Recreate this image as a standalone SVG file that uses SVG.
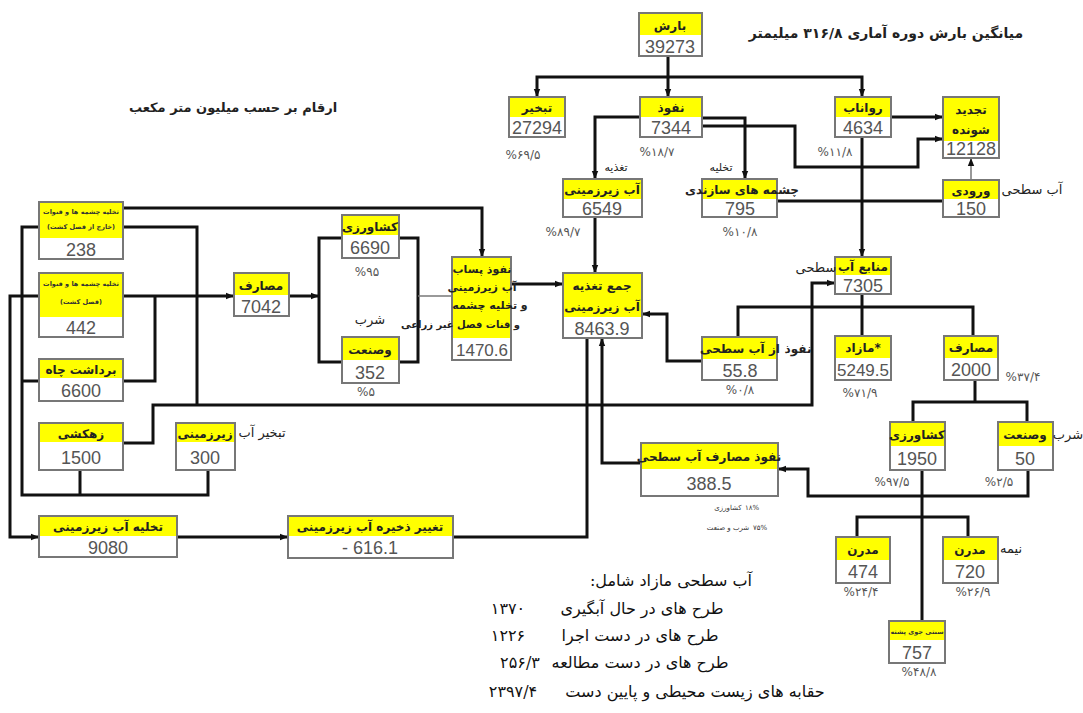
<svg xmlns="http://www.w3.org/2000/svg" width="1083" height="713" viewBox="0 0 1083 713">
<style>
.b{fill:#fff;stroke:#777;stroke-width:2}
.y{fill:#ffff00}
.lab{font-family:"DejaVu Sans",sans-serif;font-weight:bold;font-size:12px;fill:#222;text-anchor:middle}
.tiny{font-family:"DejaVu Sans",sans-serif;font-weight:bold;font-size:6.5px;fill:#333;text-anchor:middle}
.num{font-family:"Liberation Sans",Arial,sans-serif;font-size:18px;fill:#555;text-anchor:middle}
.pct{font-family:"DejaVu Sans",sans-serif;font-size:12px;fill:#555;text-anchor:middle}
.reg{font-family:"DejaVu Sans",sans-serif;font-size:13px;fill:#222;text-anchor:middle}
.ttl{font-family:"DejaVu Sans",sans-serif;font-weight:bold;font-size:14px;fill:#222;text-anchor:middle}
.lst{font-family:"DejaVu Serif","DejaVu Sans",serif;font-size:16px;fill:#111;text-anchor:middle}
.ln{fill:none;stroke:#111;stroke-width:3}
.th{fill:none;stroke:#777;stroke-width:1.5}
</style>
<defs>
<marker id="ar" viewBox="0 0 10 10" refX="10" refY="5" markerWidth="8" markerHeight="8" markerUnits="userSpaceOnUse" orient="auto"><path d="M0,1 L10,5 L0,9 z" fill="#111"/></marker>
</defs>

<g id="connectors">
<path class="ln" d="M668,56 V97" marker-end="url(#ar)"/>
<path class="ln" d="M668,77 H537 V97" marker-end="url(#ar)"/>
<path class="ln" d="M668,77 H862 V97" marker-end="url(#ar)"/>
<path class="ln" d="M640,117 H595 V179" marker-end="url(#ar)"/>
<path class="ln" d="M702,118 H745 V179" marker-end="url(#ar)"/>
<path class="ln" d="M702,126 H795 V167 H918 V139 H943" marker-end="url(#ar)"/>
<path class="ln" d="M891,117 H943" marker-end="url(#ar)"/>
<path class="ln" d="M862,137 V257" marker-end="url(#ar)"/>
<path class="th" d="M971,180 V158" marker-end="url(#ar)"/>
<path class="ln" d="M777,201 H943"/>
<path class="ln" d="M595,217 V273" marker-end="url(#ar)"/>
<path class="ln" d="M511,284 H563" marker-end="url(#ar)"/>
<path class="ln" d="M123,208 H482 V257" marker-end="url(#ar)"/>
<path class="ln" d="M123,227 H197 V405"/>
<path class="ln" d="M123,443 H153 V405 H812 V283 H835" marker-end="url(#ar)"/>
<path class="ln" d="M123,296 H234" marker-end="url(#ar)"/>
<path class="ln" d="M123,381 H155 V296"/>
<path class="ln" d="M39,227 H22 V495 H208 V470"/>
<path class="ln" d="M80,470 V495"/>
<path class="ln" d="M39,381 H22"/>
<path class="ln" d="M39,296 H10 V537 H39" marker-end="url(#ar)"/>
<path class="ln" d="M289,296 H319" marker-end="url(#ar)"/>
<path class="ln" d="M342,238 H319 V362 H342"/>
<path class="ln" d="M399,238 H418 V362 H399"/>
<path class="th" d="M418,296 H452"/>
<path class="ln" d="M177,537 H288" marker-end="url(#ar)"/>
<path class="ln" d="M453,537 H587 V338"/>
<path class="ln" d="M641,463 H602 V338" marker-end="url(#ar)"/>
<path class="ln" d="M702,361 H667 V314 H642" marker-end="url(#ar)"/>
<path class="ln" d="M862,294 V336"/>
<path class="ln" d="M738,337 V307 H973 V336"/>
<path class="ln" d="M975,380 V402"/>
<path class="ln" d="M913,422 V402 H1027 V422"/>
<path class="ln" d="M1028,470 V496 H808 V469 H778" marker-end="url(#ar)"/>
<path class="ln" d="M922,470 V621"/>
<path class="ln" d="M857,537 V517 H968 V537"/>
</g>

<g id="n-baresh"><rect class="b" x="639" y="13" width="63" height="43"/><rect class="y" x="640" y="14" width="61" height="21"/><text class="lab" x="670" y="30">بارش</text><text class="num" x="670" y="53">39273</text></g>
<g id="n-tabkhir"><rect class="b" x="509" y="97" width="56" height="40"/><rect class="y" x="510" y="98" width="54" height="19"/><text class="lab" x="537" y="112">تبخیر</text><text class="num" x="537" y="134">27294</text></g>
<g id="n-nofuz"><rect class="b" x="640" y="97" width="62" height="40"/><rect class="y" x="641" y="98" width="60" height="19"/><text class="lab" x="671" y="112">نفوذ</text><text class="num" x="671" y="134">7344</text></g>
<g id="n-ravanab"><rect class="b" x="835" y="97" width="56" height="40"/><rect class="y" x="836" y="98" width="54" height="19"/><text class="lab" x="863" y="112">رواناب</text><text class="num" x="863" y="134">4634</text></g>
<g id="n-tajdid"><rect class="b" x="943" y="97" width="56" height="61"/><rect class="y" x="944" y="98" width="54" height="43"/><text class="lab" x="971" y="114">تجدید</text><text class="lab" x="971" y="134">شونده</text><text class="num" x="971" y="155">12128</text></g>
<g id="n-vorudi"><rect class="b" x="943" y="180" width="56" height="37"/><rect class="y" x="944" y="181" width="54" height="18"/><text class="lab" x="971" y="195">ورودی</text><text class="reg" x="1032" y="194">آب سطحی</text><text class="num" x="971" y="215">150</text></g>
<g id="n-abzir"><rect class="b" x="563" y="179" width="79" height="38"/><rect class="y" x="564" y="180" width="77" height="19"/><text class="lab" x="602" y="194">آب زیرزمینی</text><text class="num" x="602" y="215">6549</text><text class="reg" x="616" y="171" style="font-size:11px">تغذیه</text></g>
<g id="n-cheshme"><rect class="b" x="702" y="179" width="75" height="38"/><rect class="y" x="703" y="180" width="73" height="19"/><text class="lab" x="742" y="194">چشمه های سازندی</text><text class="num" x="740" y="215">795</text><text class="reg" x="721" y="171" style="font-size:11px">تخلیه</text></g>
<g id="n-jam"><rect class="b" x="563" y="273" width="79" height="65"/><rect class="y" x="564" y="274" width="77" height="43"/><text class="lab" x="602" y="290">جمع تغذیه</text><text class="lab" x="602" y="311">آب زیرزمینی</text><text class="num" x="602" y="335">8463.9</text></g>
<g id="n-nofuzsat"><rect class="b" x="702" y="337" width="75" height="43"/><rect class="y" x="703" y="338" width="73" height="21"/><text class="lab" x="740" y="353">از آب سطحی</text><text class="lab" x="798" y="353">نفوذ</text><text class="num" x="740" y="377">55.8</text></g>
<g id="n-manabe"><rect class="b" x="835" y="257" width="56" height="37"/><rect class="y" x="836" y="258" width="54" height="17"/><text class="lab" x="863" y="271">منابع آب</text><text class="reg" x="816" y="272">سطحی</text><text class="num" x="863" y="292">7305</text></g>
<g id="n-mazad"><rect class="b" x="835" y="336" width="56" height="44"/><rect class="y" x="836" y="337" width="54" height="21"/><text class="lab" x="863" y="352">مازاد*</text><text class="num" x="863" y="376" style="font-size:17px">5249.5</text></g>
<g id="n-masaref2"><rect class="b" x="944" y="336" width="54" height="44"/><rect class="y" x="945" y="337" width="52" height="21"/><text class="lab" x="971" y="352">مصارف</text><text class="num" x="971" y="376">2000</text></g>
<g id="n-238"><rect class="b" x="39" y="202" width="84" height="57"/><rect class="y" x="40" y="203" width="82" height="35"/><text class="tiny" x="81" y="214">تخلیه چشمه ها و قنوات</text><text class="tiny" x="81" y="229">(خارج از فصل کشت)</text><text class="num" x="81" y="256">238</text></g>
<g id="n-442"><rect class="b" x="39" y="273" width="84" height="64"/><rect class="y" x="40" y="274" width="82" height="43"/><text class="tiny" x="81" y="286">تخلیه چشمه ها و قنوات</text><text class="tiny" x="81" y="304">(فصل کشت)</text><text class="num" x="81" y="334">442</text></g>
<g id="n-chah"><rect class="b" x="39" y="359" width="84" height="42"/><rect class="y" x="40" y="360" width="82" height="18"/><text class="lab" x="81" y="374">برداشت چاه</text><text class="num" x="81" y="397">6600</text></g>
<g id="n-masaref1"><rect class="b" x="234" y="273" width="55" height="43"/><rect class="y" x="235" y="274" width="53" height="21"/><text class="lab" x="261" y="290">مصارف</text><text class="num" x="261" y="313">7042</text></g>
<g id="n-keshavarzi1"><rect class="b" x="342" y="215" width="57" height="43"/><rect class="y" x="343" y="216" width="55" height="19"/><text class="lab" x="370" y="231">کشاورزی</text><text class="num" x="370" y="254">6690</text></g>
<g id="n-sanat1"><rect class="b" x="342" y="337" width="57" height="46"/><rect class="y" x="343" y="338" width="55" height="22"/><text class="lab" x="370" y="354">وصنعت</text><text class="reg" x="370" y="324">شرب</text><text class="num" x="370" y="379">352</text></g>
<g id="n-pasab"><rect class="b" x="452" y="257" width="59" height="103"/><rect class="y" x="453" y="258" width="57" height="80"/><text class="lab" x="482" y="273" style="font-size:11px">نفوذ پساب</text><text class="lab" x="482" y="291" style="font-size:11px">آب زیرزمینی</text><text class="lab" x="490" y="309" style="font-size:11px">و تخلیه چشمه</text><text class="lab" x="520" y="328" style="text-anchor:end;font-size:10px">و قنات فصل غیر زراعی</text><text class="num" x="482" y="356" style="font-size:17px">1470.6</text></g>
<g id="n-zahkeshi"><rect class="b" x="39" y="423" width="84" height="47"/><rect class="y" x="40" y="424" width="82" height="18"/><text class="lab" x="81" y="438">زهکشی</text><text class="num" x="81" y="464">1500</text></g>
<g id="n-tabkhirzir"><rect class="b" x="176" y="423" width="59" height="47"/><rect class="y" x="177" y="424" width="57" height="18"/><text class="lab" x="205" y="438">زیرزمینی</text><text class="reg" x="262" y="437">تبخیر آب</text><text class="num" x="205" y="464">300</text></g>
<g id="n-takhlie"><rect class="b" x="39" y="516" width="138" height="41"/><rect class="y" x="40" y="517" width="136" height="19"/><text class="lab" x="108" y="531">تخلیه آب زیرزمینی</text><text class="num" x="108" y="554">9080</text></g>
<g id="n-taghyir"><rect class="b" x="288" y="516" width="165" height="42"/><rect class="y" x="289" y="517" width="163" height="19"/><text class="lab" x="370" y="531">تغییر ذخیره آب زیرزمینی</text><text class="num" x="370" y="554">- 616.1</text></g>
<g id="n-nofuzmasaref"><rect class="b" x="641" y="443" width="137" height="53"/><rect class="y" x="642" y="444" width="135" height="25"/><text class="lab" x="709" y="461">نفوذ مصارف آب سطحی</text><text class="num" x="709" y="490">388.5</text></g>
<g id="n-keshavarzi2"><rect class="b" x="890" y="422" width="55" height="48"/><rect class="y" x="891" y="423" width="53" height="23"/><text class="lab" x="917" y="439">کشاورزی</text><text class="num" x="917" y="465">1950</text></g>
<g id="n-sanat2"><rect class="b" x="998" y="422" width="55" height="48"/><rect class="y" x="999" y="423" width="53" height="23"/><text class="lab" x="1025" y="439">وصنعت</text><text class="reg" x="1068" y="439">شرب</text><text class="num" x="1025" y="465">50</text></g>
<g id="n-modern"><rect class="b" x="836" y="537" width="54" height="46"/><rect class="y" x="837" y="538" width="52" height="22"/><text class="lab" x="863" y="554">مدرن</text><text class="num" x="863" y="578">474</text></g>
<g id="n-nimemodern"><rect class="b" x="943" y="537" width="55" height="46"/><rect class="y" x="944" y="538" width="53" height="22"/><text class="lab" x="970" y="554">مدرن</text><text class="reg" x="1011" y="553">نیمه</text><text class="num" x="970" y="578">720</text></g>
<g id="n-sonnati"><rect class="b" x="889" y="621" width="56" height="42"/><rect class="y" x="890" y="622" width="54" height="18"/><text class="tiny" x="917" y="634">سنتی جوی پشته</text><text class="num" x="917" y="659">757</text></g>

<g id="labels">
<text class="ttl" x="886" y="38">میانگین بارش دوره آماری ۳۱۶/۸ میلیمتر</text>
<text class="ttl" x="233" y="112" style="font-size:13px">ارقام بر حسب میلیون متر مکعب</text>
<text class="pct" x="523" y="159">%۶۹/۵</text>
<text class="pct" x="657" y="156">%۱۸/۷</text>
<text class="pct" x="835" y="156">%۱۱/۸</text>
<text class="pct" x="563" y="236">%۸۹/۷</text>
<text class="pct" x="740" y="236">%۱۰/۸</text>
<text class="pct" x="367" y="276">%۹۵</text>
<text class="pct" x="366" y="396">%۵</text>
<text class="pct" x="740" y="394">%۰/۸</text>
<text class="pct" x="860" y="397">%۷۱/۹</text>
<text class="pct" x="1023" y="381">%۳۷/۴</text>
<text class="pct" x="892" y="486">%۹۷/۵</text>
<text class="pct" x="999" y="486">%۲/۵</text>
<text class="pct" x="861" y="596">%۲۴/۴</text>
<text class="pct" x="973" y="596">%۲۶/۹</text>
<text class="pct" x="919" y="676">%۴۸/۸</text>
<text class="tiny" x="728" y="510" style="font-weight:normal;font-size:7px">کشاورزی</text><text class="tiny" x="752" y="510" style="font-weight:normal;font-size:7px">۱۸%</text>
<text class="tiny" x="728" y="530" style="font-weight:normal;font-size:7px">شرب و صنعت</text><text class="tiny" x="760" y="530" style="font-weight:normal;font-size:7px">۷۵%</text>
<text class="lst" x="671" y="586" direction="rtl">آب سطحی مازاد شامل:</text>
<text class="lst" x="642" y="614">طرح های در حال آبگیری</text><text class="lst" x="508" y="614">۱۳۷۰</text>
<text class="lst" x="640" y="641">طرح های در دست اجرا</text><text class="lst" x="508" y="641">۱۲۲۶</text>
<text class="lst" x="640" y="668">طرح های در دست مطالعه</text><text class="lst" x="520" y="668">۲۵۶/۳</text>
<text class="lst" x="695" y="697">حقابه های زیست محیطی و پایین دست</text><text class="lst" x="513" y="697">۲۳۹۷/۴</text>
</g>
</svg>
